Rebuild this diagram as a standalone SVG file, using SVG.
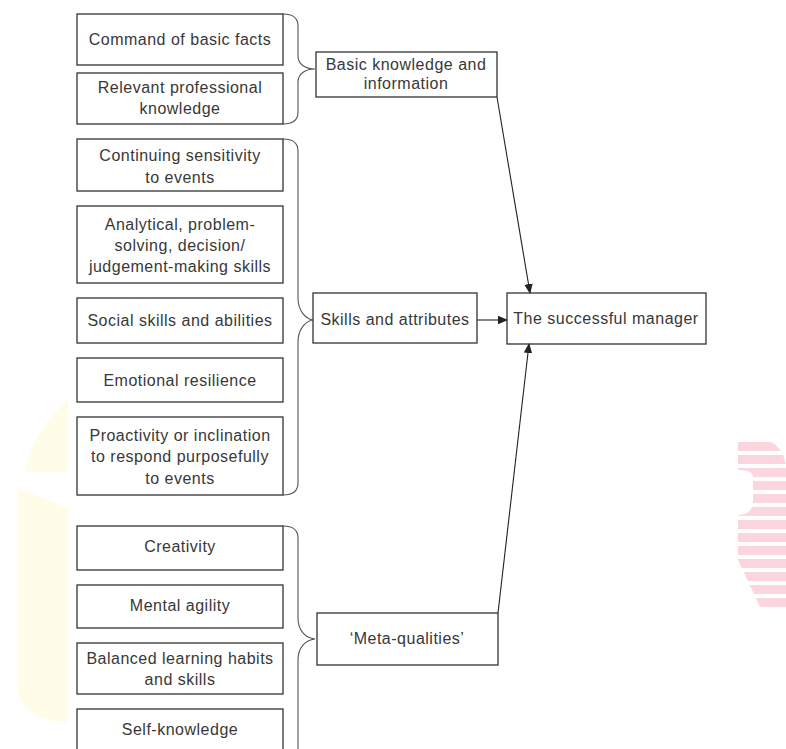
<svg xmlns="http://www.w3.org/2000/svg" width="786" height="749" viewBox="0 0 786 749">
<defs>
<style>
.box{fill:none;stroke:#333;stroke-width:1.3}
.t{font-family:"Liberation Sans",Arial,sans-serif;font-size:16px;letter-spacing:0.5px;fill:#383838;text-anchor:middle}
.br{fill:none;stroke:#555;stroke-width:1.1}
.ln{fill:none;stroke:#222;stroke-width:1.1}
</style>
<marker id="ah" markerWidth="10" markerHeight="10" refX="9" refY="5" orient="auto" markerUnits="userSpaceOnUse">
<path d="M0,0.8 L10,5 L0,9.2 Z" fill="#222"/>
</marker>
<pattern id="stripes" width="20" height="13" patternUnits="userSpaceOnUse">
<rect x="0" y="0" width="20" height="9" fill="#fcd6de"/>
</pattern>
</defs>
<rect width="786" height="749" fill="#fff"/>
<g id="watermark">
<path d="M68,400 L68,472 L25,472 C30,442 50,415 68,400 Z" fill="#fffde8"/>
<path d="M18,488 L68,508 L68,722 C45,722 20,712 18,690 Z" fill="#fffde8"/>
<path d="M738,440 L765,440 C778,443 786,455 786,470 L786,607 L760,607 L738,560 L738,515 C748,515 753,510 753,500 L753,478 C753,472 748,470 738,470 Z" fill="url(#stripes)"/>
</g>
<g id="connectors">
<path class="br" d="M283,14 C293,14 298,18 298,26 L298,56 C298,64 305,69 315,69 C305,69 298,74 298,82 L298,112 C298,120 293,124 283,124"/>
<path class="br" d="M283,139 C293,139 298,143 298,151 L298,298 C298,310 305,319 313,320 C305,321 298,330 298,342 L298,483 C298,491 293,495 283,495"/>
<path class="br" d="M283,526 C293,526 298,530 298,538 L298,618 C298,630 305,638 315,639 C305,640 298,648 298,660 L298,760"/>
<line class="ln" x1="497" y1="97" x2="530" y2="293" marker-end="url(#ah)"/>
<line class="ln" x1="477" y1="320" x2="507" y2="320" marker-end="url(#ah)"/>
<line class="ln" x1="498" y1="613" x2="529" y2="344" marker-end="url(#ah)"/>
</g>
<g id="n1"><rect class="box" x="77" y="14" width="206" height="51"/><text class="t" x="180" y="45">Command of basic facts</text></g>
<g id="n2"><rect class="box" x="77" y="73" width="206" height="51"/><text class="t" x="180" y="93">Relevant professional</text><text class="t" x="180" y="114">knowledge</text></g>
<g id="n3"><rect class="box" x="316" y="52" width="181" height="45"/><text class="t" x="406" y="70">Basic knowledge and</text><text class="t" x="406" y="89">information</text></g>
<g id="n4"><rect class="box" x="77" y="139" width="206" height="52"/><text class="t" x="180" y="161">Continuing sensitivity</text><text class="t" x="180" y="183">to events</text></g>
<g id="n5"><rect class="box" x="77" y="206" width="206" height="77"/><text class="t" x="180" y="230">Analytical, problem-</text><text class="t" x="180" y="251">solving, decision/</text><text class="t" x="180" y="272">judgement-making skills</text></g>
<g id="n6"><rect class="box" x="77" y="298" width="206" height="45"/><text class="t" x="180" y="326">Social skills and abilities</text></g>
<g id="n7"><rect class="box" x="77" y="358" width="206" height="44"/><text class="t" x="180" y="386">Emotional resilience</text></g>
<g id="n8"><rect class="box" x="77" y="417" width="206" height="78"/><text class="t" x="180" y="441">Proactivity or inclination</text><text class="t" x="180" y="462">to respond purposefully</text><text class="t" x="180" y="484">to events</text></g>
<g id="n9"><rect class="box" x="313" y="293" width="164" height="50"/><text class="t" x="395" y="325">Skills and attributes</text></g>
<g id="n10"><rect class="box" x="507" y="293" width="199" height="51"/><text class="t" x="606" y="324">The successful manager</text></g>
<g id="n11"><rect class="box" x="77" y="526" width="206" height="44"/><text class="t" x="180" y="552">Creativity</text></g>
<g id="n12"><rect class="box" x="77" y="585" width="206" height="43"/><text class="t" x="180" y="611">Mental agility</text></g>
<g id="n13"><rect class="box" x="77" y="643" width="206" height="51"/><text class="t" x="180" y="664">Balanced learning habits</text><text class="t" x="180" y="685">and skills</text></g>
<g id="n14"><rect class="box" x="77" y="709" width="206" height="50"/><text class="t" x="180" y="735">Self-knowledge</text></g>
<g id="n15"><rect class="box" x="317" y="613" width="181" height="52"/><text class="t" x="407" y="644">‘Meta-qualities’</text></g>
</svg>
